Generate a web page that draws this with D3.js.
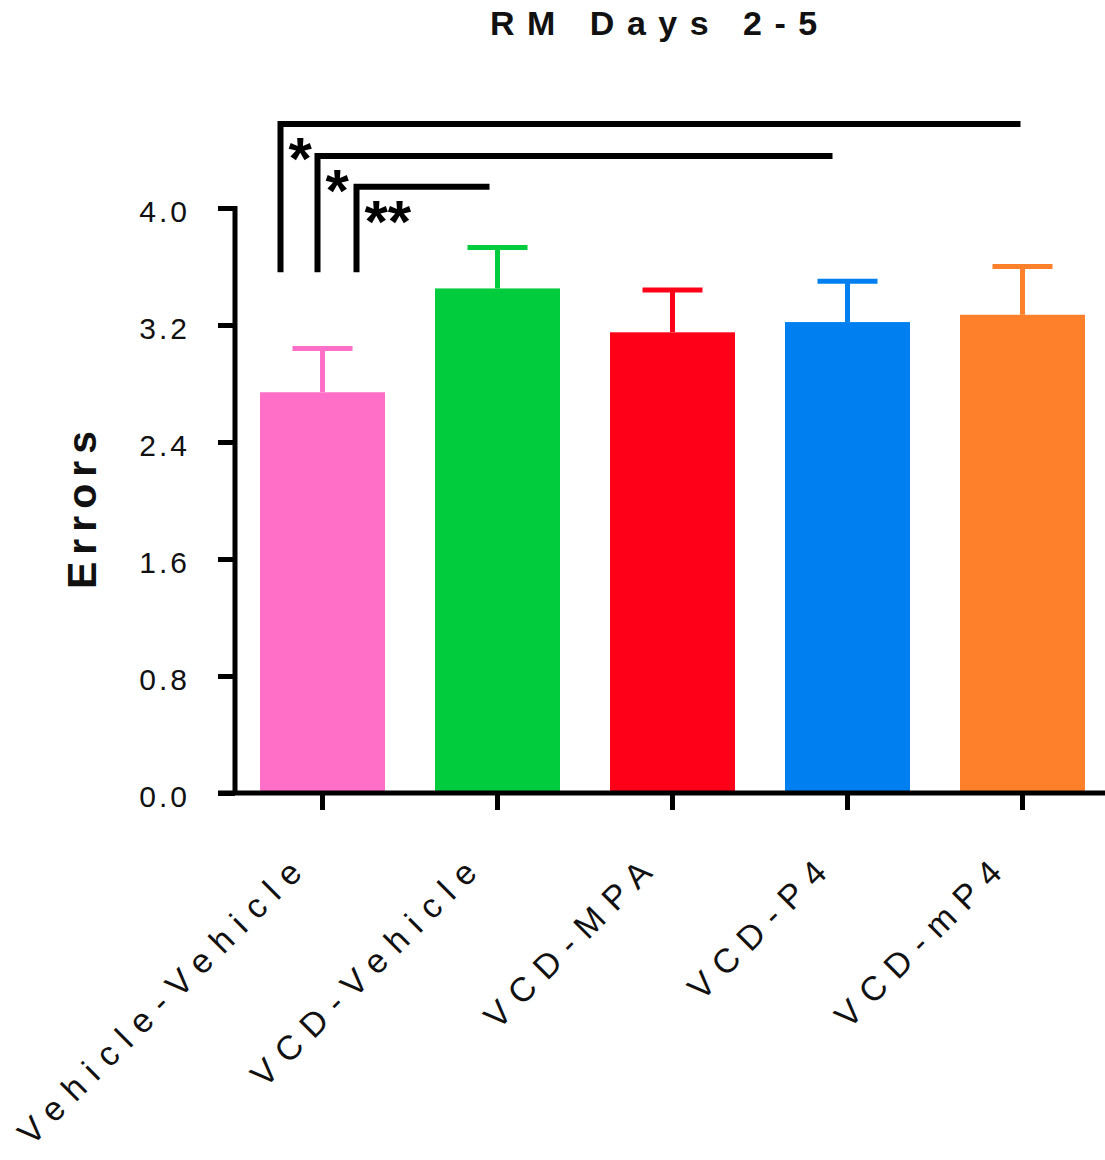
<!DOCTYPE html>
<html>
<head>
<meta charset="utf-8">
<script src="https://cdn.jsdelivr.net/npm/d3@7"></script>
<style>
  html, body { margin: 0; padding: 0; background: #fff; }
  svg { display: block; }
  text { font-family: "Liberation Sans", Arial, Helvetica, sans-serif; }
</style>
</head>
<body>
<svg id="chart" width="1105" height="1160"></svg>
<script>
// ---- data ----
const categories = ["Vehicle-Vehicle", "VCD-Vehicle", "VCD-MPA", "VCD-P4", "VCD-mP4"];
const means = [2.74, 3.45, 3.15, 3.22, 3.27];
const sems = [0.30, 0.28, 0.29, 0.28, 0.33];
const barColors = ["#FF6EC7", "#00CC3D", "#FF0019", "#0080F0", "#FF802B"];
const yTickValues = [0.0, 0.8, 1.6, 2.4, 3.2, 4.0];
const title = "RM Days 2-5";
const yTitle = "Errors";
// significance comparisons (from group index, to group index, label, bracket level in data units)
const compFrom = [0, 0, 0];
const compTo = [4, 3, 1];
const compLabels = ["*", "*", "**"];
const compLevels = [4.575, 4.355, 4.145];
const compBase = 3.56;

// ---- layout ----
const svg = d3.select("#chart");
const x = d3.scaleBand()
  .domain(categories)
  .range([235, 1110])
  .paddingInner(2 / 7)
  .paddingOuter(1 / 7);
const y = d3.scaleLinear().domain([0, 4]).range([793, 208]);

const data = categories.map((c, i) => ({ cat: c, mean: means[i], sem: sems[i], color: barColors[i] }));

// bars
svg.append("g").selectAll("rect").data(data).join("rect")
  .attr("x", d => x(d.cat))
  .attr("width", x.bandwidth())
  .attr("y", d => y(d.mean))
  .attr("height", d => y(0) - y(d.mean))
  .attr("fill", d => d.color);

// error bars (upper only)
const eb = svg.append("g").selectAll("g").data(data).join("g");
eb.append("line")
  .attr("x1", d => x(d.cat) + x.bandwidth() / 2)
  .attr("x2", d => x(d.cat) + x.bandwidth() / 2)
  .attr("y1", d => y(d.mean))
  .attr("y2", d => y(d.mean + d.sem))
  .attr("stroke", d => d.color).attr("stroke-width", 5);
eb.append("line")
  .attr("x1", d => x(d.cat) + x.bandwidth() / 2 - 30)
  .attr("x2", d => x(d.cat) + x.bandwidth() / 2 + 30)
  .attr("y1", d => y(d.mean + d.sem))
  .attr("y2", d => y(d.mean + d.sem))
  .attr("stroke", d => d.color).attr("stroke-width", 5);

// y axis
const yAxis = d3.axisLeft(y)
  .tickValues(yTickValues)
  .tickFormat(d3.format(".1f"))
  .tickSize(17)
  .tickSizeOuter(0)
  .tickPadding(28);
const gy = svg.append("g").attr("transform", "translate(235,0)").call(yAxis);
gy.select(".domain").attr("stroke", "#000").attr("stroke-width", 5).attr("d", `M0,${y(4) - 2}V${y(0) + 2}`);
gy.selectAll(".tick line").attr("stroke", "#000").attr("stroke-width", 5);
gy.selectAll(".tick text")
  .attr("font-size", 30)
  .attr("letter-spacing", 3)
  .attr("fill", "#111")
  .attr("dy", "0.45em")
  .style("font-family", "'Liberation Sans', Arial, sans-serif");

// x axis
const xAxis = d3.axisBottom(x).tickSize(17).tickSizeOuter(0).tickFormat("");
const gx = svg.append("g").attr("transform", `translate(0,${y(0)})`).call(xAxis);
gx.select(".domain").attr("stroke", "#000").attr("stroke-width", 5).attr("d", `M218,0H1105`);
gx.selectAll(".tick line").attr("stroke", "#000").attr("stroke-width", 5);

// x labels rotated
svg.append("g").selectAll("text").data(categories).join("text")
  .attr("transform", d => `translate(${x(d) + x.bandwidth() / 2 - 11},${y(0) + 74}) rotate(-45)`)
  .attr("text-anchor", "end")
  .attr("font-size", 34)
  .attr("letter-spacing", 11)
  .attr("fill", "#111")
  .text(d => d);

// title
svg.append("text")
  .attr("x", 490).attr("y", 35)
  .attr("font-size", 34)
  .attr("font-weight", "bold")
  .attr("letter-spacing", 12.5)
  .attr("fill", "#111")
  .text(title);

// y title
svg.append("text")
  .attr("transform", `translate(96,${(y(0) + y(4)) / 2 + 6}) rotate(-90)`)
  .attr("text-anchor", "middle")
  .attr("font-size", 41)
  .attr("font-weight", "bold")
  .attr("letter-spacing", 7)
  .attr("fill", "#111")
  .text(yTitle);

// significance brackets
const cx = i => x(categories[i]) + x.bandwidth() / 2;
const leftOffsets = [-42, -5, 34];
const rightOffsets = [-2, -15, -8];
const comps = compFrom.map((f, i) => ({ f, t: compTo[i], label: compLabels[i], level: compLevels[i], i }));
const gb = svg.append("g");
gb.selectAll("path").data(comps).join("path")
  .attr("d", d => {
    const xl = cx(d.f) + leftOffsets[d.i];
    const xr = cx(d.t) + rightOffsets[d.i];
    return `M${xl},${y(compBase)}V${y(d.level)}H${xr}`;
  })
  .attr("fill", "none")
  .attr("stroke", "#000")
  .attr("stroke-width", 6)
  .attr("stroke-linejoin", "miter");
gb.selectAll("text").data(comps).join("text")
  .attr("x", d => cx(d.f) + leftOffsets[d.i] + 8)
  .attr("y", d => y(d.level) + 55)
  .attr("font-size", 60)
  .attr("font-weight", "bold")
  .attr("letter-spacing", 0)
  .attr("fill", "#000")
  .text(d => d.label);
</script>
</body>
</html>
